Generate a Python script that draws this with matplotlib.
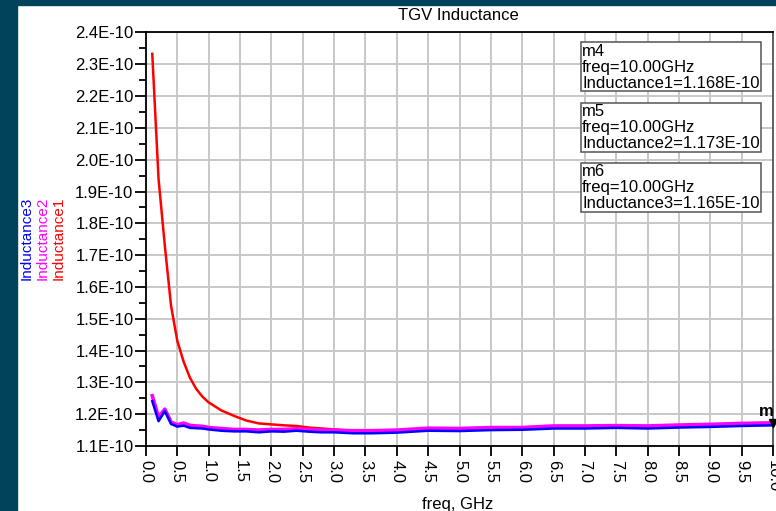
import matplotlib
matplotlib.use("Agg")
import matplotlib.pyplot as plt
from matplotlib.ticker import MultipleLocator, FuncFormatter
import matplotlib.patches as patches

plt.rcParams["font.family"] = ["Liberation Sans", "DejaVu Sans"]

# frequency points (GHz) and inductances (units of 1E-10 H)
freq = [0.1, 0.2, 0.3, 0.4, 0.5, 0.6, 0.7, 0.8, 0.9, 1.0,
        1.2, 1.4, 1.6, 1.8, 2.0, 2.2, 2.4, 2.6, 2.8, 3.0,
        3.3, 3.6, 4.0, 4.5, 5.0, 5.5, 6.0, 6.5, 7.0, 7.5,
        8.0, 8.5, 9.0, 9.5, 10.0]
ind1 = [2.333, 1.940, 1.730, 1.540, 1.430, 1.365, 1.315, 1.280, 1.255, 1.237,
        1.212, 1.195, 1.180, 1.171, 1.168, 1.165, 1.163, 1.158, 1.155, 1.152,
        1.147, 1.146, 1.148, 1.154, 1.153, 1.156, 1.156, 1.161, 1.161, 1.162,
        1.161, 1.164, 1.166, 1.167, 1.168]
ind2 = [1.258, 1.190, 1.216, 1.175, 1.167, 1.172, 1.165, 1.163, 1.162, 1.158,
        1.155, 1.152, 1.152, 1.150, 1.152, 1.152, 1.154, 1.152, 1.150, 1.150,
        1.148, 1.148, 1.150, 1.156, 1.155, 1.158, 1.158, 1.163, 1.163, 1.164,
        1.163, 1.166, 1.168, 1.171, 1.173]
ind3 = [1.241, 1.178, 1.210, 1.169, 1.161, 1.164, 1.157, 1.156, 1.155, 1.152,
        1.148, 1.146, 1.146, 1.143, 1.146, 1.145, 1.148, 1.145, 1.143, 1.143,
        1.140, 1.140, 1.142, 1.148, 1.147, 1.150, 1.151, 1.155, 1.155, 1.157,
        1.155, 1.158, 1.160, 1.163, 1.165]

series_names = ["Inductance1", "Inductance2", "Inductance3"]
series_colors = ["#ff0000", "#ff00ff", "#0000ff"]
marker_names = ["m4", "m5", "m6"]
marker_freq = 10.0
marker_vals = ["1.168E-10", "1.173E-10", "1.165E-10"]

W, H = 776, 511
FS = 12
fig = plt.figure(figsize=(W / 100, H / 100), dpi=100)

# dark window border (left and top)
teal = "#00435a"
fig.patches.append(patches.Rectangle((0, 0), 17 / W, 1, transform=fig.transFigure,
                                     color=teal, zorder=-1))
fig.patches.append(patches.Rectangle((0, 1 - 5 / H), 1, 5 / H, transform=fig.transFigure,
                                     color=teal, zorder=-1))

ax = fig.add_axes([146 / W, 65 / H, 627 / W, 413.5 / H])
ax.set_xlim(0, 10)
ax.set_ylim(1.1, 2.4)

# red underneath, magenta over it, blue on top
ax.plot(freq, ind1, color=series_colors[0], lw=1.8, zorder=3)
ax.plot(freq, ind2, color=series_colors[1], lw=2.6, zorder=4)
ax.plot(freq, ind3, color=series_colors[2], lw=1.8, zorder=5)

ax.xaxis.set_major_locator(MultipleLocator(0.5))
ax.yaxis.set_major_locator(MultipleLocator(0.1))
ax.yaxis.set_minor_locator(MultipleLocator(0.05))
ax.xaxis.set_major_formatter(FuncFormatter(lambda v, p: f"{v:.1f}"))
ax.yaxis.set_major_formatter(FuncFormatter(lambda v, p: f"{v:.1f}E-10"))
ax.tick_params(axis="x", which="major", length=7, width=1.3, labelsize=FS,
               labelrotation=-90, pad=3)
ax.tick_params(axis="y", which="major", length=8, width=1.3, labelsize=FS, pad=1)
ax.tick_params(axis="y", which="minor", length=5, width=1.3)
for lab in ax.get_xticklabels():
    lab.set_va("top")

ax.grid(True, which="major", color="#c8c8c8", lw=1.4, zorder=0)
ax.set_axisbelow(True)
for side in ["left", "bottom", "top"]:
    ax.spines[side].set_color("black")
    ax.spines[side].set_linewidth(1.3)
ax.spines["right"].set_color("#555555")
ax.spines["right"].set_linewidth(1.3)

fig.text(458 / W, 1 - 15 / H, "TGV Inductance", ha="center", va="center", fontsize=FS)
fig.text(458 / W, 1 - 504 / H, "freq, GHz", ha="center", va="center", fontsize=FS)

# stacked y labels
for i, (name, col) in enumerate(zip(series_names, series_colors)):
    fig.text((59 - 16 * i) / W, 1 - 238 / H, name, color=col, rotation=90,
             ha="center", va="center", fontsize=11)

# marker readout boxes
box_tops = [42.5, 103, 163]
for name, sname, val, top in zip(marker_names, series_names, marker_vals, box_tops):
    x0, x1 = 580.5, 761
    ax.add_patch(patches.Rectangle((x0 / W, 1 - (top + 49) / H), (x1 - x0) / W, 49 / H,
                                   transform=fig.transFigure, fill=True, facecolor="white",
                                   edgecolor="#555555", lw=1.1, zorder=6, clip_on=False))
    txt = f"{name}\nfreq={marker_freq:.2f}GHz\n{sname}={val}"
    fig.text(582 / W, 1 - (top + 1.5) / H, txt, ha="left", va="top", fontsize=FS,
             linespacing=1.08, zorder=7)

# marker symbol at 10 GHz
ax.plot([marker_freq], [ind1[-1] + 0.004], marker="v", color="black", ms=6,
        clip_on=False, zorder=8)
ax.annotate("m", (marker_freq, ind1[-1]), xytext=(-5, 9), textcoords="offset points",
            ha="center", va="center", fontsize=FS, fontweight="bold", annotation_clip=False)

fig.savefig("out.png", dpi=100)
